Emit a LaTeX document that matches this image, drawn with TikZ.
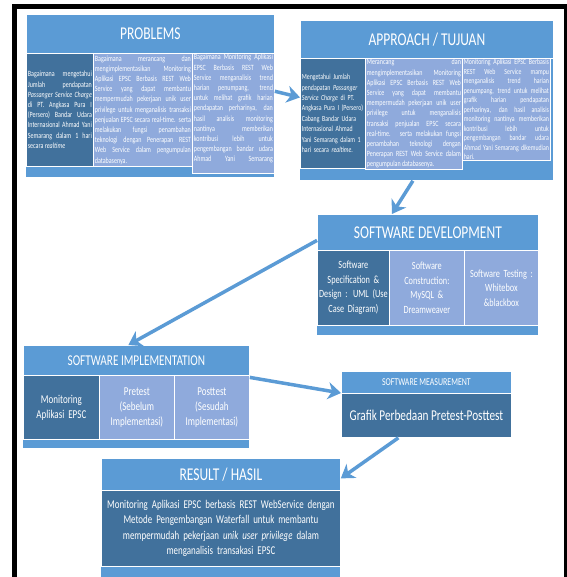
\documentclass[tikz,border=0pt]{standalone}
\usepackage{fontspec}
\setmainfont{Carlito}[FakeStretch=0.75]
\usetikzlibrary{arrows.meta}
\setlength{\parindent}{0pt}
\hyphenpenalty=10000
\exhyphenpenalty=10000
\tolerance=10000

\definecolor{bandblue}{HTML}{5B9BD5}
\definecolor{deepblue}{HTML}{41719C}
\definecolor{paleblue}{HTML}{8FAADC}

\newcommand{\fnttitle}{\fontsize{18}{20}\selectfont}
\newcommand{\fntcol}{\fontsize{8}{10.2}\selectfont}
\newcommand{\fntdev}{\fontsize{11}{14.5}\selectfont}
\newcommand{\fntimpl}{\fontsize{12}{15}\selectfont}

\tikzset{
  cell/.style={
    rectangle, anchor=north west,
    draw=white, line width=0.8pt, text=white,
    inner xsep=1.5pt, inner ysep=1pt
  },
  box back/.style={
    cell, fill=bandblue, draw=none
  },
  title band/.style={
    cell, fill=bandblue, font=\fnttitle
  },
  dark cell/.style={
    cell, fill=deepblue
  },
  pale cell/.style={
    cell, fill=paleblue
  },
  flow arrow/.style={
    -{Stealth[length=13pt, width=17pt, inset=4pt]},
    line width=3.5pt, draw=bandblue
  },
}

\begin{document}
\begin{tikzpicture}[x=1pt, y=-1pt]
  \useasboundingbox (0,0) rectangle (566,577);

  % frame
  \draw[line width=5pt] (14.5,600) -- (14.5,6.5) -- (566.5,6.5) -- (566.5,600);

  % PROBLEMS
  \node[box back, minimum width=248pt, minimum height=163pt] (prob) at (26,14) {};
  \node[title band, minimum width=248pt, minimum height=39pt] (probT) at (26,14) {PROBLEMS};
  \node[dark cell, text width=64pt, minimum height=113pt, align=justify, font=\fntcol]
    (prob1) at (26,53) {
      Bagaimana mengetahui\linebreak
      Jumlah pendapatan\linebreak
      \textit{Passanger Service Charge}\linebreak
      di PT. Angkasa Pura I\linebreak
      (Persero) Bandar Udara\linebreak
      Internasional Ahmad Yani\linebreak
      Semarang dalam 1 hari\linebreak
      secara \textit{realtime}};
  \node[pale cell, text width=96pt, minimum height=113pt, align=justify, font=\fntcol]
    (prob2) at (93,53) {
      Bagaimana merancang dan\linebreak
      mengimplementasikan Monitoring\linebreak
      Aplikasi EPSC Berbasis REST Web\linebreak
      Service yang dapat membantu\linebreak
      mempermudah pekerjaan unik user\linebreak
      privilege untuk menganalisis transaksi\linebreak
      penjualan EPSC secara real-time. serta\linebreak
      melakukan fungsi penambahan\linebreak
      teknologi dengan Penerapan REST\linebreak
      Web Service dalam pengumpulan\linebreak
      databasenya.};
  \node[pale cell, text width=79pt, minimum height=113pt, align=justify, font=\fntcol]
    (prob3) at (192,53) {
      Bagaimana Monitoring Aplikasi\linebreak
      EPSC Berbasis REST Web\linebreak
      Service menganalisis trend\linebreak
      harian penumpang, trend\linebreak
      untuk melihat grafik harian\linebreak
      pendapatan perharinya, dan\linebreak
      hasil analisis monitoring\linebreak
      nantinya memberikan\linebreak
      kontribusi lebih untuk\linebreak
      pengembangan bandar udara\linebreak
      Ahmad Yani Semarang\linebreak};

  % APPROACH / TUJUAN
  \node[box back, minimum width=253pt, minimum height=160pt] (appr) at (300,20) {};
  \node[title band, minimum width=253pt, minimum height=38pt] (apprT) at (300,20) {APPROACH / TUJUAN};
  \node[dark cell, text width=62pt, minimum height=110pt, align=left,
        font=\fontsize{7.8}{10.4}\selectfont]
    (appr1) at (300,58) {
      Mengetahui Jumlah\\
      pendapatan \textit{Passanger}\\
      \textit{Service Charge} di PT.\\
      Angkasa Pura I (Persero)\\
      Cabang Bandar Udara\\
      Internasional Ahmad\\
      Yani Semarang dalam 1\\
      hari secara \textit{realtime}.};
  \node[pale cell, text width=94pt, minimum height=110pt, align=justify, font=\fntcol]
    (appr2) at (365,58) {
      Merancang dan\linebreak
      mengimplementasikan Monitoring\linebreak
      Aplikasi EPSC Berbasis REST Web\linebreak
      Service yang dapat membantu\linebreak
      mempermudah pekerjaan unik user\linebreak
      privilege untuk menganalisis\linebreak
      transaksi penjualan EPSC secara\linebreak
      real-time. serta melakukan fungsi\linebreak
      penambahan teknologi dengan\linebreak
      Penerapan REST Web Service dalam\linebreak
      pengumpulan databasenya.};
  \node[pale cell, text width=85pt, minimum height=99pt, align=justify,
        font=\fontsize{7.8}{9.5}\selectfont]
    (appr3) at (462,58) {
      Monitoring Aplikasi EPSC Berbasis\linebreak
      REST Web Service mampu\linebreak
      menganalisis trend harian\linebreak
      penumpang, trend untuk melihat\linebreak
      grafik harian pendapatan\linebreak
      perharinya, dan hasil analisis\linebreak
      monitoring nantinya memberikan\linebreak
      kontribusi lebih untuk\linebreak
      pengembangan bandar udara\linebreak
      Ahmad Yani Semarang dikemudian\linebreak
      hari.};

  % SOFTWARE DEVELOPMENT
  \node[box back, minimum width=221pt, minimum height=121pt] (dev) at (317,214) {};
  \node[title band, minimum width=221pt, minimum height=36pt] (devT) at (317,214) {SOFTWARE DEVELOPMENT};
  \node[dark cell, text width=69pt, minimum height=75pt, align=center, font=\fntdev]
    (dev1) at (317,250) {Software\\ Specification \&\\ Design : UML (Use\\ Case Diagram)};
  \node[pale cell, text width=72pt, minimum height=75pt, align=center, font=\fntdev]
    (dev2) at (389,250) {Software\\ Construction:\\ MySQL \&\\ Dreamweaver};
  \node[pale cell, text width=71pt, minimum height=75pt, align=center, font=\fntdev]
    (dev3) at (464,250) {Software Testing :\\ Whitebox\\ \&blackbox};

  % SOFTWARE IMPLEMENTATION
  \node[box back, minimum width=226pt, minimum height=103pt] (impl) at (23,345) {};
  \node[title band, minimum width=226pt, minimum height=30pt, font=\fontsize{15}{17}\selectfont]
    (implT) at (23,345) {SOFTWARE IMPLEMENTATION};
  \node[dark cell, text width=73pt, minimum height=64pt, align=center, font=\fntimpl]
    (impl1) at (23,375) {Monitoring\\ Aplikasi EPSC};
  \node[pale cell, text width=72pt, minimum height=64pt, align=center, font=\fntimpl]
    (impl2) at (99,375) {Pretest\\ (Sebelum\\ Implementasi)};
  \node[pale cell, text width=72pt, minimum height=64pt, align=center, font=\fntimpl]
    (impl3) at (174,375) {Posttest\\ (Sesudah\\ Implementasi)};

  % SOFTWARE MEASUREMENT
  \node[title band, minimum width=170pt, minimum height=22pt, font=\fontsize{10.5}{12}\selectfont]
    (measT) at (341,371) {SOFTWARE MEASUREMENT};
  \node[dark cell, minimum width=170pt, minimum height=44pt, font=\fontsize{15}{17}\selectfont]
    (measB) at (341,393) {Grafik Perbedaan Pretest-Posttest};

  % RESULT / HASIL
  \node[box back, minimum width=239pt, minimum height=140pt] (res) at (101,458) {};
  \node[title band, minimum width=239pt, minimum height=32pt] (resT) at (101,458) {RESULT / HASIL};
  \node[dark cell, text width=236pt, minimum height=76pt, align=center,
        font=\fontsize{11.9}{15.5}\selectfont]
    (resB) at (101,490) {
      Monitoring Aplikasi EPSC berbasis REST WebService dengan\\
      Metode Pengembangan Waterfall untuk membantu\\
      mempermudah pekerjaan \textit{unik user privilege} dalam\\
      menganalisis transakasi EPSC};

  % arrows
  \draw[flow arrow] ([yshift=22pt]prob3.east) -- ([yshift=16pt]appr1.west);
  \draw[flow arrow] ([xshift=-14pt]appr.south) -- ([xshift=-36pt]devT.north);
  \draw[flow arrow] ([yshift=-8pt]devT.west) -- ([xshift=-8pt]implT.north);
  \draw[flow arrow] ([yshift=30pt]impl3.east) -- (measB.north west);
  \draw[flow arrow] ([xshift=-28pt]measB.south) -- ([yshift=-4pt]resT.east);

\end{tikzpicture}
\end{document}
